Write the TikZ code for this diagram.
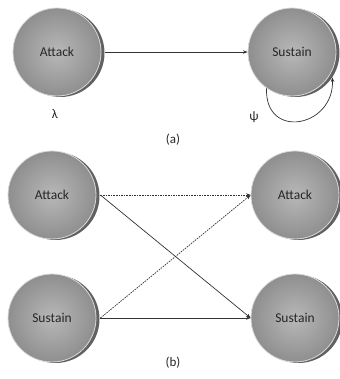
\documentclass[tikz,border=0pt]{standalone}
\usepackage{fontspec}
\setmainfont{Carlito}
\usepackage{tikz}
\usetikzlibrary{positioning}
\usetikzlibrary{arrows.meta}
\usetikzlibrary{shadows}
\pgfdeclarelayer{nodelayer}
\pgfdeclarelayer{edgelayer}
\pgfsetlayers{nodelayer,edgelayer,main}
\tikzset{
    none/.style = {inner sep=0pt},
    state/.style = {circle, minimum size=88pt, inner sep=0pt,
        inner color=black!28, outer color=black!44,
        draw=white!85!black, line width=0.8pt,
        general shadow={fill=black!62, shadow xshift=3.5pt, shadow yshift=-1pt},
        font=\fontsize{13.5}{15}\selectfont, text=black!85},
    lbl/.style = {inner sep=0pt, font=\fontsize{13}{15}\selectfont, text=black!85},
    plain edge/.style = {draw=black!80, line width=0.7pt, -{Stealth[length=4.5pt, width=3.5pt]}},
    dashed edge/.style = {plain edge, dash pattern=on 1.6pt off 1pt}
}
\begin{document}
\begin{tikzpicture}[x=10pt, y=10pt]
  \useasboundingbox (0, 0) rectangle (33.9, 37.9);
  \begin{pgfonlayer}{nodelayer}
    \node [style=state] (0) at (5.7, 32.7) {Attack};
    \node [style=state] (1) at (29.2, 32.7) {Sustain};
    \node [style=lbl] (2) at (5.5, 26.5) {λ};
    \node [style=lbl] (3) at (25.4, 26.2) {ψ};
    \node [style=lbl] (4) at (17.3, 23.9) {(a)};
    \node [style=state] (5) at (5.2, 18.4) {Attack};
    \node [style=state] (6) at (5.2, 6.1) {Sustain};
    \node [style=state] (7) at (29.5, 18.4) {Attack};
    \node [style=state] (8) at (29.5, 6.1) {Sustain};
    \node [style=lbl] (9) at (17.3, 1.6) {(b)};
  \end{pgfonlayer}
  \begin{pgfonlayer}{edgelayer}
    \draw [style=plain edge] ([xshift=4pt]0.east) to (1.west);
    \draw [style=plain edge] (1.235) .. controls +(-0.2, -5.2) and +(0.2, -5.0) .. ([xshift=4pt]1.325);
    \draw [style=dashed edge] ([xshift=4pt]5.east) to (7.west);
    \draw [style=plain edge] ([xshift=4pt]5.east) to (8.west);
    \draw [style=dashed edge] ([xshift=4pt]6.east) to (7.west);
    \draw [style=plain edge] ([xshift=4pt]6.east) to (8.west);
  \end{pgfonlayer}
\end{tikzpicture}
\end{document}
